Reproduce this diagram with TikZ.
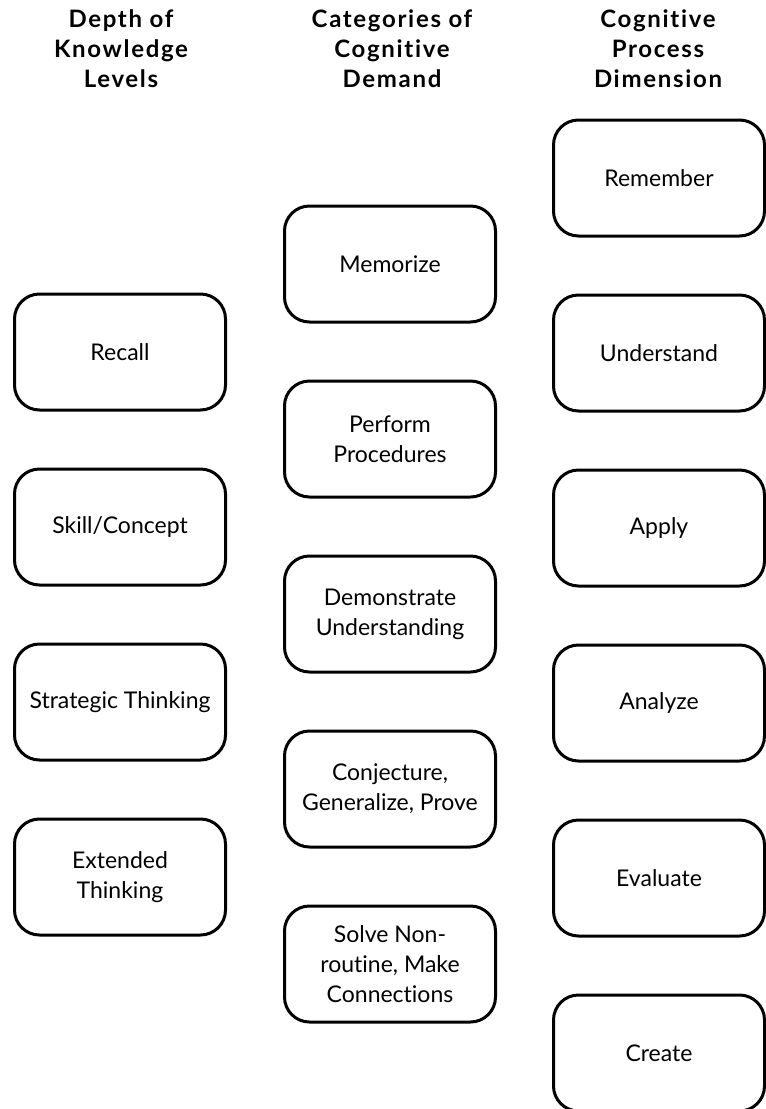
\documentclass[tikz,border=0pt]{standalone}
\usepackage{fontspec}
\setmainfont{Lato}[Ligatures=NoCommon]
\newfontfamily\headfont[LetterSpace=7,Ligatures=NoCommon]{Lato}
\usetikzlibrary{positioning}

\begin{document}
\begin{tikzpicture}[
  x=1pt, y=-1pt,
  font=\fontsize{23}{30}\selectfont,
  node distance=56pt,
  box/.style={draw, rectangle, rounded corners=25pt, minimum width=211pt, minimum height=116pt, align=center, line width=3pt, inner sep=3pt},
  head/.style={align=center, font=\headfont\bfseries\fontsize{24}{30}\selectfont}
]
\useasboundingbox (0,0) rectangle (766,1109);

% column headings
\node[head] (dokhead) at (121,49) {Depth of\\Knowledge\\Levels};
\node[head] (cathead) at (392,49) {Categories of\\Cognitive\\Demand};
\node[head] (prochead) at (658,49) {Cognitive\\Process\\Dimension};

% depth of knowledge
\node[box] (recall) at (120,352) {Recall};
\node[box, below=of recall] (skill) {Skill/Concept};
\node[box, below=of skill] (strategic) {Strategic Thinking};
\node[box, below=of strategic] (extended) {Extended\\Thinking};

% cognitive demand
\node[box] (memorize) at (390,264) {Memorize};
\node[box, below=of memorize] (perform) {Perform\\Procedures};
\node[box, below=of perform] (demonstrate) {Demonstrate\\Understanding};
\node[box, below=of demonstrate] (conjecture) {Conjecture,\\Generalize, Prove};
\node[box, below=of conjecture] (solve) {Solve Non-\\routine, Make\\Connections};

% cognitive process
\node[box] (remember) at (659,178) {Remember};
\node[box, below=of remember] (understand) {Understand};
\node[box, below=of understand] (apply) {Apply};
\node[box, below=of apply] (analyze) {Analyze};
\node[box, below=of analyze] (evaluate) {Evaluate};
\node[box, below=of evaluate] (create) {Create};
\end{tikzpicture}
\end{document}
